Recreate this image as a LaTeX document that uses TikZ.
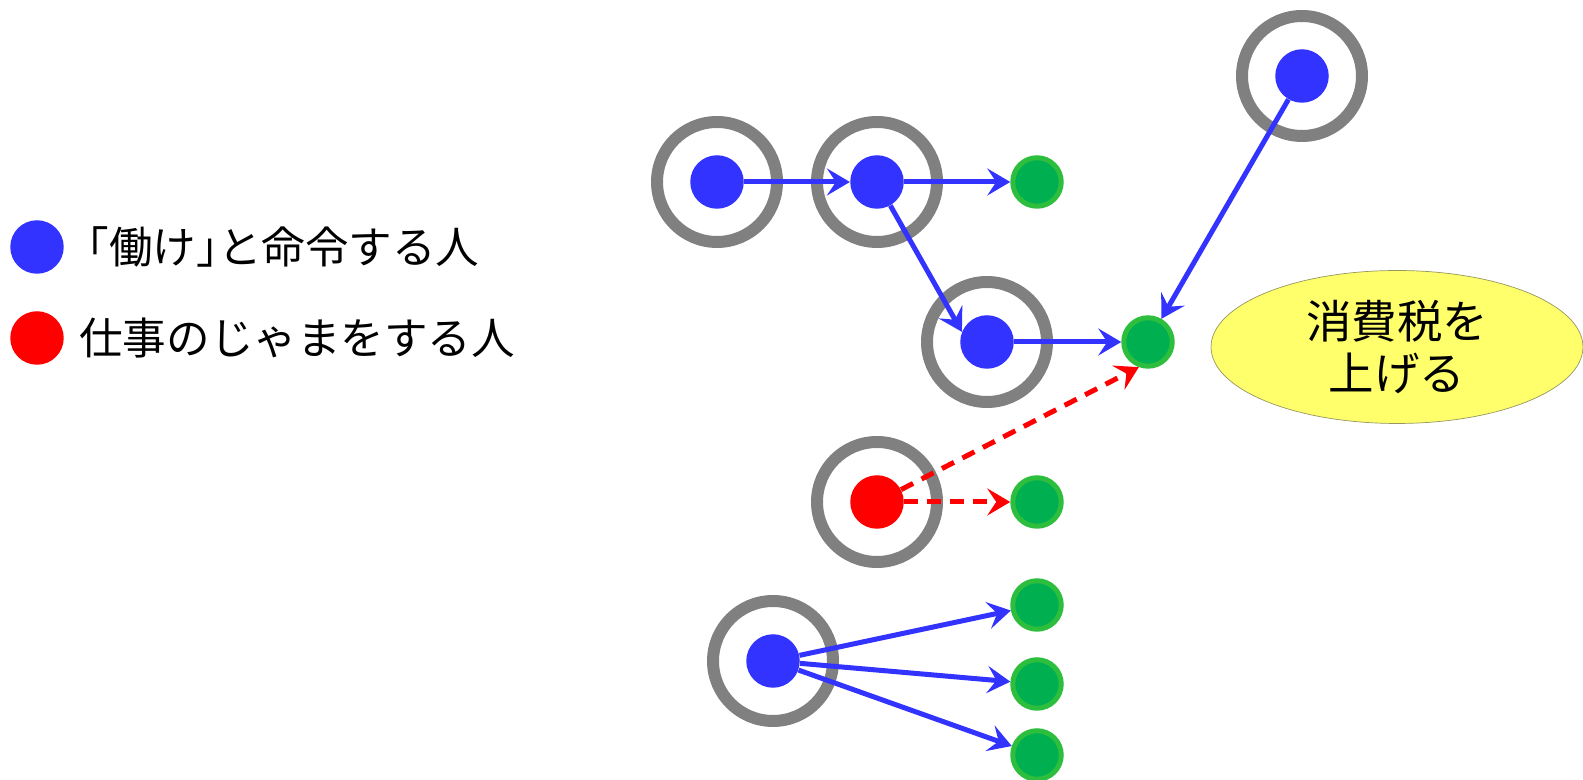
\documentclass[tikz,border=0pt]{standalone}
\usepackage{fontspec}
\newfontfamily\jpfont{Noto Sans CJK JP}
\newcommand\halfbr[1]{{\addfontfeature{RawFeature=+halt}#1}}
\usetikzlibrary{arrows.meta,shapes.geometric}
\definecolor{cmdblue}{RGB}{51,51,255}
\definecolor{ringgray}{RGB}{128,128,128}
\definecolor{leafgreen}{RGB}{0,176,80}
\definecolor{leafrim}{RGB}{46,190,62}
\definecolor{taxlight}{RGB}{255,255,108}
\definecolor{taxmid}{RGB}{225,225,78}
\definecolor{taxdark}{RGB}{150,150,95}
\pgfdeclareradialshading{taxglow}{\pgfpoint{0bp}{4bp}}{%
  color(0bp)=(taxlight); color(39bp)=(taxlight); color(47bp)=(taxmid); color(50bp)=(taxdark); color(60bp)=(taxdark)}
\tikzset{
  boss/.style     = {circle, fill=cmdblue, minimum size=1.07cm, inner sep=0pt},
  saboteur/.style = {circle, fill=red, minimum size=1.07cm, inner sep=0pt},
  leaf/.style     = {circle, fill=leafgreen, draw=leafrim, line width=0.1cm,
                     minimum size=0.97cm, inner sep=0pt},
  ring/.style     = {circle, draw=ringgray, line width=0.24cm, minimum size=2.4cm, inner sep=0pt},
  order/.style    = {-{Stealth[length=0.46cm, width=0.54cm, inset=0.18cm]}, cmdblue, line width=0.1cm},
  block/.style    = {order, red, dash pattern=on 0.27cm off 0.19cm},
  tax/.style      = {ellipse, shading=taxglow, draw=taxdark, line width=0.4pt,
                     minimum width=7.44cm, minimum height=3.06cm, inner sep=0pt,
                     align=center, font=\jpfont\fontsize{25.9}{29.5}\selectfont},
  legend/.style   = {anchor=west, inner sep=0pt, font=\jpfont\fontsize{24.8}{28}\selectfont},
}

\begin{document}
\begin{tikzpicture}[x=0.02cm, y=0.02cm]
  \useasboundingbox (0,0) rectangle (1583,780);

  % people giving orders, the one hindering, and the workers
  \node[boss]     (n1) at (717,598)  {};
  \node[boss]     (n2) at (877,598)  {};
  \node[boss]     (n3) at (987,438)  {};
  \node[boss]     (n4) at (773,119)  {};
  \node[boss]     (n5) at (1302,704) {};
  \node[saboteur] (r1) at (877,278)  {};
  \node[leaf]     (g1) at (1037,598) {};
  \node[leaf]     (g2) at (1148,438) {};
  \node[leaf]     (g3) at (1037,278) {};
  \node[leaf]     (g4) at (1037,175) {};
  \node[leaf]     (g5) at (1037,96)  {};
  \node[leaf]     (g6) at (1037,25)  {};

  % grey rings round the people
  \foreach \d in {n1,n2,n3,n4,n5,r1}
    \node[ring] (\d-ring) at (\d) {};

  \node[tax] (tax) at (1397,433) {消費税を\\上げる};

  % orders
  \draw[order] (n1) -- (n2);
  \draw[order] (n2) -- (g1);
  \draw[order] (n2) -- (n3.158);
  \draw[order] (n3) -- (g2);
  \draw[order] (n5) -- (g2);
  \draw[order] (n4) -- (g4);
  \draw[order] (n4) -- (g5);
  \draw[order] (n4) -- (g6);
  \draw[block] (r1) -- (g2.250);
  \draw[block] (r1) -- (g3);

  % legend
  \node[boss]     (key-boss)      at (37,533) {};
  \node[saboteur] (key-block)     at (37,442) {};
  \node[legend]   (key-boss-txt)  at (87,533) {\halfbr{「}働け\halfbr{」}と命令する人};
  \node[legend]   (key-block-txt) at (79,442) {仕事のじゃまをする人};

\end{tikzpicture}
\end{document}
